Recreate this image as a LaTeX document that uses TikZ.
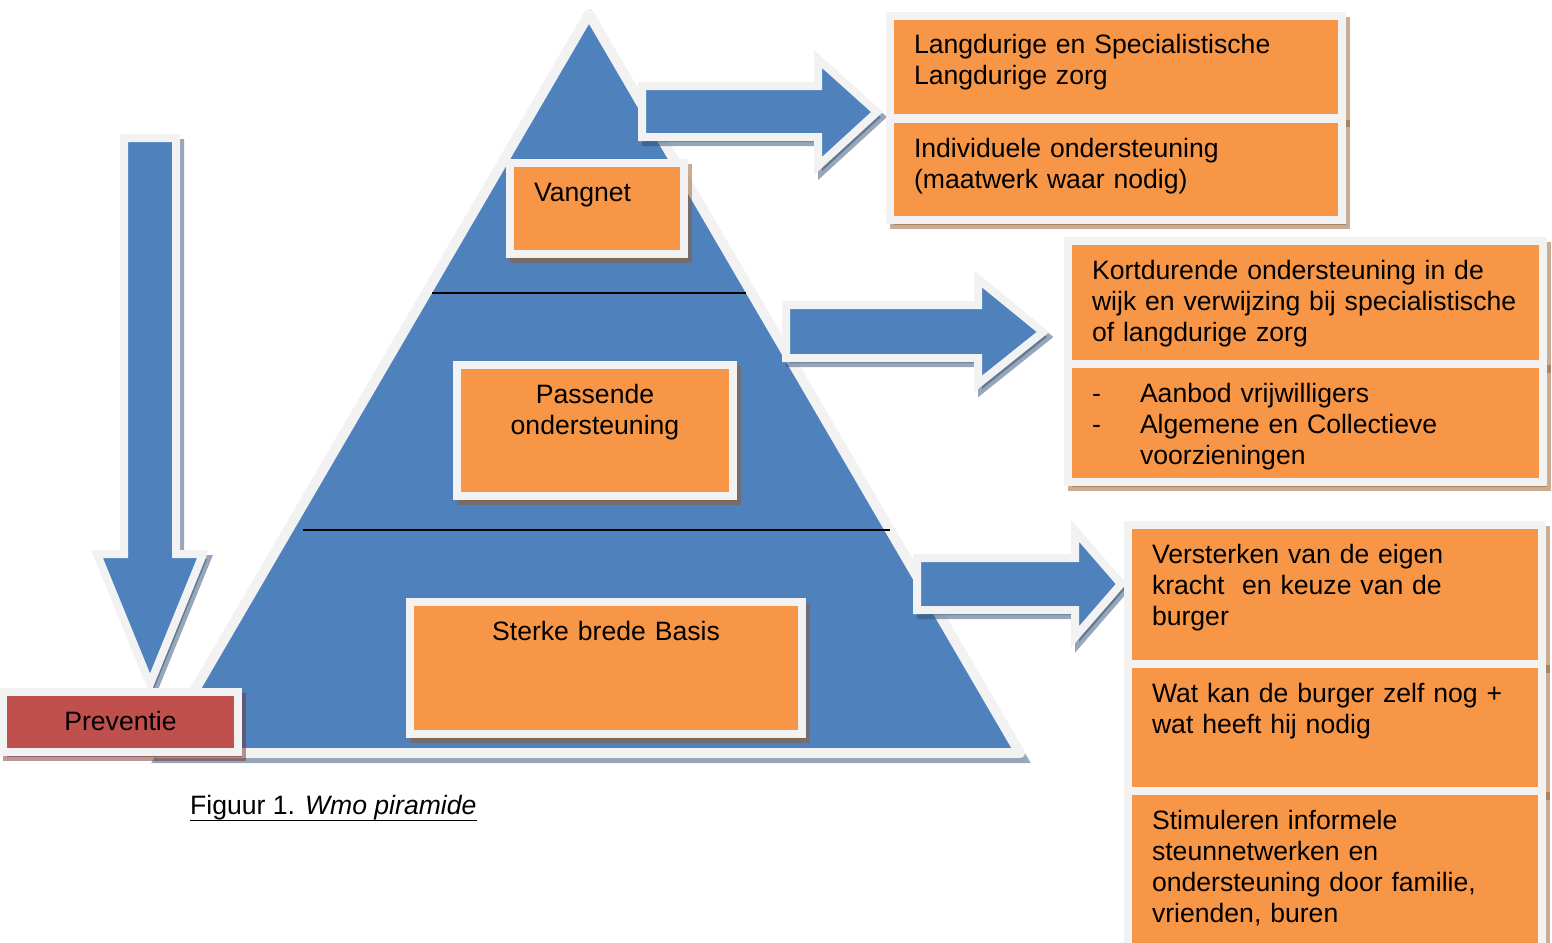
\documentclass[tikz,border=0pt]{standalone}
\usepackage{fontspec}
\setmainfont{Liberation Sans}
\definecolor{blu}{HTML}{4F81BD}
\definecolor{orng}{HTML}{F79646}
\definecolor{rood}{HTML}{C0504D}
\definecolor{rand}{HTML}{F2F2F2}
\tikzset{
  dropshd/.style n args={3}{preaction={draw=#1, fill=#1, line width=#2, opacity=.5,
      transform canvas={shift={#3}}}},
  band/.style={draw=rand, line width=8pt},
  pijl/.style={band, fill=blu, dropshd={blu!60!black}{8pt}{(4pt,-5pt)}},
  vak/.style n args={3}{band, fill=#3, dropshd={#3!60!black}{8pt}{(4pt,-5pt)},
      anchor=north west, outer sep=0pt, inner xsep=24pt, inner ysep=0pt,
      text width=#1-48pt, text height=38pt, text depth=#2-38pt, align=left},
}
\begin{document}
\begin{tikzpicture}[x=1pt, y=-1pt, font=\fontsize{26.6}{31}\selectfont]
              \useasboundingbox (0,0) rectangle (1552,942);
              % piramide
              \draw[band, line width=10pt, line join=round, fill=blu, dropshd={blu!60!black}{10pt}{(2pt,-5pt)}]
                (589,14) -- (158,753) -- (1020,753) -- cycle;
              \draw[line width=1.6pt] (432,293) -- (746,293);
              \draw[line width=1.6pt] (303,530) -- (890,530);
              \node[vak={174}{91}{orng}] (vangnet) at (510,163) {Vangnet};
              \node[vak={276}{131}{orng}, align=center] (passend) at (457,365) {Passende\\ondersteuning};
              \node[vak={392}{132}{orng}, align=center] (basis) at (410,602) {Sterke brede Basis};
              % pijlen naar rechts
              \path[pijl] (642,86) -- (818,86) -- (818,59) -- (877,112) -- (818,166) -- (818,137) -- (642,137) -- cycle;
              \path[pijl] (786,305) -- (978,305) -- (978,279) -- (1043,332) -- (978,384) -- (978,358) -- (786,358) -- cycle;
              \path[pijl] (917,558) -- (1075,558) -- (1075,531) -- (1121,584) -- (1075,637) -- (1075,610) -- (917,610) -- cycle;
              % vakken rechts
              \node[vak={452}{102}{orng}] (langdurig) at (890,16) {Langdurige en Specialistische\\Langdurige zorg};
              \node[vak={452}{101}{orng}] (individueel) at (890,119) {Individuele ondersteuning\\(maatwerk waar nodig)};
              \node[vak={475}{123}{orng}] (kortdurend) at (1068,241) {Kortdurende ondersteuning in de\\wijk en verwijzing bij specialistische\\of langdurige zorg};
              \node[vak={475}{118}{orng}] (aanbod) at (1068,364) {\makebox[48pt][l]{-}Aanbod vrijwilligers\\\makebox[48pt][l]{-}Algemene en Collectieve\\\hspace*{48pt}voorzieningen};
              \node[vak={414}{139}{orng}] (eigen) at (1128,525) {Versterken van de eigen\\kracht\ \ en keuze van de\\burger};
              \node[vak={414}{127}{orng}] (zelf) at (1128,664) {Wat kan de burger zelf nog +\\wat heeft hij nodig};
              \node[vak={414}{170}{orng}] (informeel) at (1128,791) {Stimuleren informele\\steunnetwerken en\\ondersteuning door familie,\\vrienden, buren};
              % preventie
              \path[pijl] (124,138) -- (176,138) -- (176,554) -- (203,554) -- (150,684) -- (97,554) -- (124,554) -- cycle;
              \node[vak={235}{60}{rood}, align=center] (preventie) at (3,692) {Preventie};
              \node[anchor=base west, inner sep=0pt] (cap) at (190,814) {Figuur 1. \textit{Wmo piramide}};
              \draw[line width=1.8pt] ([yshift=-6.5pt]cap.base west) -- ([yshift=-6.5pt]cap.base east);
            \end{tikzpicture}
\end{document}
